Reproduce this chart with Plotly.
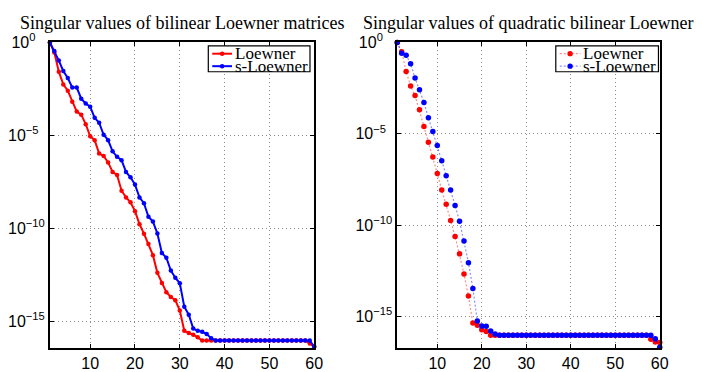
import plotly.graph_objects as go

W, H = 703, 372

# sample index
idx = list(range(1, 61))

# log10 of singular values
left_loewner_exp = [
    0, -0.55, -1.58, -2.26, -2.6, -3.2, -3.72, -3.89, -4.4, -5.05,
    -5.26, -5.98, -6.11, -6.46, -6.97, -7.14, -7.98, -8.34, -8.6, -9.08,
    -9.78, -10.29, -10.85, -11.45, -12.4, -12.94, -13.44, -13.7, -13.87, -14.43,
    -15.52, -15.64, -15.73, -15.87, -16.04, -16.04, -16.04, -16.04, -16.04, -16.04,
    -16.04, -16.04, -16.04, -16.04, -16.04, -16.04, -16.04, -16.04, -16.04, -16.04,
    -16.04, -16.04, -16.04, -16.04, -16.04, -16.04, -16.04, -16.04, -16.2, -16.38,
]
left_sloewner_exp = [
    0, -0.46, -0.98, -1.54, -1.92, -2.43, -2.43, -3.03, -3.29, -3.46,
    -4.06, -4.32, -4.97, -5.26, -5.86, -6.16, -6.34, -6.97, -7.26, -7.65,
    -8.34, -8.65, -9.38, -9.64, -10.28, -11.33, -11.59, -12.28, -12.66, -12.96,
    -14.22, -14.65, -15.4, -15.52, -15.57, -15.69, -15.92, -16.04, -16.04, -16.04,
    -16.04, -16.04, -16.04, -16.04, -16.04, -16.04, -16.04, -16.04, -16.04, -16.04,
    -16.04, -16.04, -16.04, -16.04, -16.04, -16.04, -16.04, -16.04, -16.04, -16.38,
]
right_loewner_exp = [
    0, -0.51, -1.6, -2.39, -2.91, -3.69, -4.6, -5.47, -6.27, -7.18,
    -8.08, -8.87, -9.75, -10.63, -11.58, -12.68, -13.89, -15.37, -15.49, -15.74,
    -15.83, -16.04, -16.04, -16.04, -16.04, -16.04, -16.04, -16.04, -16.04, -16.04,
    -16.04, -16.04, -16.04, -16.04, -16.04, -16.04, -16.04, -16.04, -16.04, -16.04,
    -16.04, -16.04, -16.04, -16.04, -16.04, -16.04, -16.04, -16.04, -16.04, -16.04,
    -16.04, -16.04, -16.04, -16.04, -16.04, -16.04, -16.04, -16.25, -16.41, -16.43,
]
right_sloewner_exp = [
    0, -0.59, -0.70, -1.17, -1.95, -2.6, -3.29, -4.13, -4.88, -5.64,
    -6.48, -7.3, -8.08, -8.93, -9.79, -10.88, -12.06, -13.47, -15.26, -15.53,
    -15.55, -15.81, -15.97, -16.04, -16.04, -16.04, -16.04, -16.04, -16.04, -16.04,
    -16.04, -16.04, -16.04, -16.04, -16.04, -16.04, -16.04, -16.04, -16.04, -16.04,
    -16.04, -16.04, -16.04, -16.04, -16.04, -16.04, -16.04, -16.04, -16.04, -16.04,
    -16.04, -16.04, -16.04, -16.04, -16.04, -16.04, -16.04, -16.04, -16.23, -16.69,
]

x_tickvals = [10, 20, 30, 40, 50, 60]
x_ticktext = ["10", "20", "30", "40", "50", "60"]
y_tickvals = [1e0, 1e-5, 1e-10, 1e-15]
y_ticktext = ["10<sup>0\u00a0\u00a0\u00a0</sup>", "10<sup>\u22125\u00a0\u00a0</sup>",
              "10<sup>\u221210</sup>", "10<sup>\u221215</sup>"]

titles = ["Singular values of bilinear Loewner matrices",
          "Singular values of quadratic bilinear Loewner"]
series_names = ["Loewner", "s-Loewner"]

RED = "rgb(255,0,0)"
BLUE = "rgb(0,0,255)"
RED_DOT = "rgba(255,0,0,0.45)"
BLUE_DOT = "rgba(0,0,255,0.45)"
DOTDASH = "2px,2px"


def vals(e):
    return [10 ** v for v in e]


fig = go.Figure()

# left panel: solid lines with dot markers
fig.add_trace(go.Scatter(x=idx, y=vals(left_loewner_exp), name=series_names[0],
                         mode="lines+markers", line=dict(color=RED, width=2),
                         marker=dict(color=RED, size=4.5), cliponaxis=False,
                         xaxis="x", yaxis="y", showlegend=False))
fig.add_trace(go.Scatter(x=idx, y=vals(left_sloewner_exp), name=series_names[1],
                         mode="lines+markers", line=dict(color=BLUE, width=2),
                         marker=dict(color=BLUE, size=4.5), cliponaxis=False,
                         xaxis="x", yaxis="y", showlegend=False))
# right panel: dotted lines with dot markers
fig.add_trace(go.Scatter(x=idx, y=vals(right_loewner_exp), name=series_names[0],
                         mode="lines+markers",
                         line=dict(color=RED_DOT, width=1.2, dash=DOTDASH),
                         marker=dict(color=RED, size=5.5), cliponaxis=False,
                         xaxis="x2", yaxis="y2", showlegend=False))
fig.add_trace(go.Scatter(x=idx, y=vals(right_sloewner_exp), name=series_names[1],
                         mode="lines+markers",
                         line=dict(color=BLUE_DOT, width=1.2, dash=DOTDASH),
                         marker=dict(color=BLUE, size=5.5), cliponaxis=False,
                         xaxis="x2", yaxis="y2", showlegend=False))

tickfont = dict(family="Liberation Sans", size=16, color="black")
serif = "Liberation Serif"
GRID = "#8c8c8c"


def xax(domain, anchor):
    return dict(domain=domain, anchor=anchor, range=[1, 60], tickvals=x_tickvals,
                ticktext=x_ticktext, ticks="inside", ticklen=4, tickcolor="black",
                showline=True, linecolor="black", linewidth=1.7, mirror="allticks",
                showgrid=True, gridcolor=GRID, griddash="1px,3px", gridwidth=1,
                zeroline=False, tickfont=tickfont)


def yax(domain, anchor, lo):
    return dict(domain=domain, anchor=anchor, type="log", range=[lo, 0],
                tickvals=y_tickvals, ticktext=y_ticktext, ticks="inside", ticklen=4,
                tickcolor="black", showline=True, linecolor="black", linewidth=1.7,
                mirror="allticks", showgrid=True, gridcolor=GRID, griddash="1px,3px",
                gridwidth=1, zeroline=False, tickfont=tickfont)


ydom = [1 - 350.7 / H, 1 - 32.7 / H]
left_dom = [50.5 / W, 318.3 / W]
right_dom = [402.4 / W, 668.3 / W]


def px(x):
    return x / W


def py(y):
    return 1 - y / H


shapes = []
annotations = []

# titles
for t, dom in zip(titles, [left_dom, right_dom]):
    annotations.append(dict(text=t, x=(dom[0] + dom[1]) / 2, y=py(13),
                            xref="paper", yref="paper", showarrow=False,
                            xanchor="center", yanchor="middle",
                            font=dict(family=serif, size=18, color="black")))

# legends (boxes drawn in paper space)
legend_specs = [
    (211, 314, 215, 235, 236.5, [RED, BLUE], [RED, BLUE], "solid", 2),
    (563, 667, 567, 588, 588.5, [RED_DOT, BLUE_DOT], [RED, BLUE], DOTDASH, 1.2),
]
rows = [44.5, 57.5]
for bx0, bx1, sx0, sx1, tx, lcols, mcols, dash, lw in legend_specs:
    shapes.append(dict(type="rect", xref="paper", yref="paper",
                       x0=px(bx0), x1=px(bx1), y0=py(63.3), y1=py(36.3),
                       line=dict(color="black", width=1.2), fillcolor="white",
                       layer="above"))
    for name, ry, lc, mc in zip(series_names, rows, lcols, mcols):
        shapes.append(dict(type="line", xref="paper", yref="paper",
                           x0=px(sx0), x1=px(sx1), y0=py(ry), y1=py(ry),
                           line=dict(color=lc, width=lw, dash=dash), layer="above"))
        cx = (sx0 + sx1) / 2
        r = 2.3 if lw == 2 else 2.7
        shapes.append(dict(type="circle", xref="paper", yref="paper",
                           x0=px(cx - r), x1=px(cx + r), y0=py(ry + r), y1=py(ry - r),
                           line=dict(color=mc, width=0), fillcolor=mc, layer="above"))
        annotations.append(dict(text=name, x=px(tx), y=py(ry), xref="paper",
                                yref="paper", showarrow=False, xanchor="left",
                                yanchor="middle",
                                font=dict(family=serif, size=17, color="black")))

fig.update_layout(
    width=W, height=H, margin=dict(l=0, r=0, t=0, b=0),
    paper_bgcolor="white", plot_bgcolor="white",
    xaxis=xax(left_dom, "y"),
    yaxis=yax(ydom, "x", -16.42),
    xaxis2=xax(right_dom, "y2"),
    yaxis2=yax(ydom, "x2", -16.71),
    showlegend=False,
    shapes=shapes,
    annotations=annotations,
)

fig.write_html("out.html")
